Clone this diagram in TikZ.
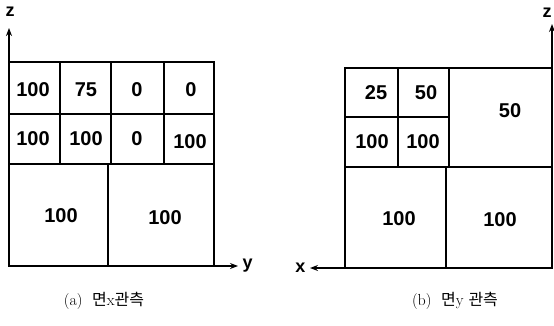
\documentclass[tikz,border=0pt]{standalone}
\usepackage{fontspec}
\setsansfont{Liberation Sans}
\newfontfamily\krfont{Noto Sans CJK KR}
\usetikzlibrary{arrows.meta,calc}

\tikzset{
  cellnum/.style={font=\sffamily\bfseries\fontsize{20}{20}\selectfont},
  axislbl/.style={font=\sffamily\bfseries\fontsize{18}{18}\selectfont},
  capt/.style={font=\fontsize{16}{17}\selectfont},
  grid line/.style={line width=1.5pt},
}

\begin{document}
\begin{tikzpicture}[x=1pt,y=-1pt,>={Stealth[length=8pt,width=6pt]}]
\useasboundingbox (0,0) rectangle (554,326);
% (a) view along x
\coordinate (Ao) at (9,266);
\coordinate (Az) at (9,28);
\coordinate (Ay) at (238,266);
\draw[grid line] (9,62) rectangle (214,266);
\draw[grid line] (9,114) -- (214,114);
\draw[grid line] (9,164) -- (214,164);
\draw[grid line] (60,62) -- (60,164);
\draw[grid line] (111,62) -- (111,164);
\draw[grid line] (164,62) -- (164,164);
\draw[grid line] (108,164) -- (108,266);
\draw[grid line,->] (Ao) -- (Az);
\draw[grid line,->] (Ao) -- (Ay);
\node[axislbl] (zA) at (10,12) {z};
\node[axislbl,right=1pt] (yA) at (Ay) {y};
\node[cellnum] (a11) at (33,90) {100};
\node[cellnum] (a12) at (86,90) {75};
\node[cellnum] (a13) at (137,90) {0};
\node[cellnum] (a14) at (191,90) {0};
\node[cellnum] (a21) at (33,139) {100};
\node[cellnum] (a22) at (86,139) {100};
\node[cellnum] (a23) at (137,139) {0};
\node[cellnum] (a24) at (190,142) {100};
\node[cellnum] (a31) at (61,216) {100};
\node[cellnum] (a32) at (165,218) {100};
\node[capt] (captA) at (104,301) {(a)\ \ {\krfont 면}x{\krfont 관측}};
% (b) view along y
\coordinate (Bo) at (552,268);
\coordinate (Bz) at (552,24);
\coordinate (Bx) at (310,268);
\draw[grid line] (345,68) rectangle (552,268);
\draw[grid line] (345,117) -- (449,117);
\draw[grid line] (345,167) -- (552,167);
\draw[grid line] (398,68) -- (398,167);
\draw[grid line] (449,68) -- (449,167);
\draw[grid line] (446,167) -- (446,268);
\draw[grid line,->] (Bo) -- (Bz);
\draw[grid line,->] (345,268) -- (Bx);
\node[axislbl] (zB) at (547,13) {z};
\node[axislbl,left=1pt] (xB) at (Bx) {x};
\node[cellnum] (b11) at (376,93) {25};
\node[cellnum] (b12) at (426,93) {50};
\node[cellnum] (b21) at (372,142) {100};
\node[cellnum] (b22) at (423,142) {100};
\node[cellnum] (b13) at (510,111) {50};
\node[cellnum] (b31) at (399,219) {100};
\node[cellnum] (b32) at (500,220) {100};
\node[capt] (captB) at (455,301) {(b)\ \ {\krfont 면}y\ {\krfont 관측}};
\end{tikzpicture}
\end{document}
